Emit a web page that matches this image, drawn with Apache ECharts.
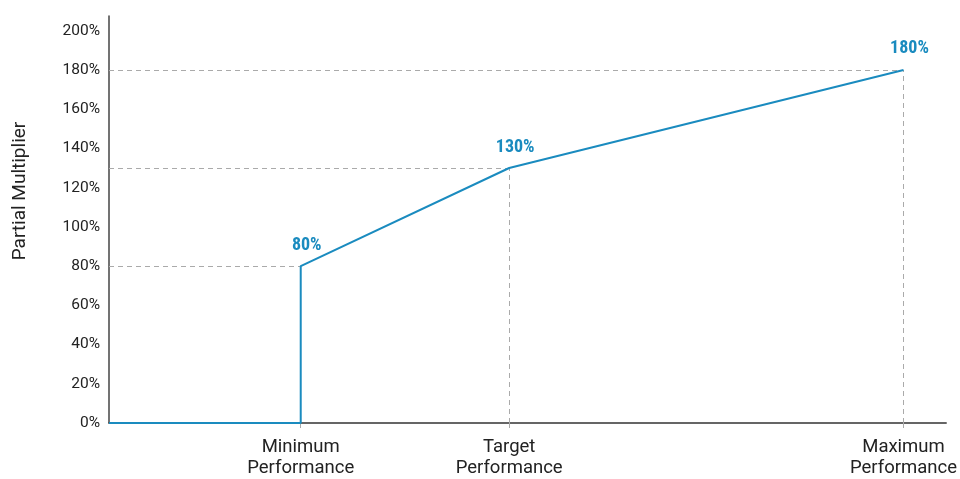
<!DOCTYPE html>
<html>
<head>
<meta charset="utf-8">
<script src="https://cdn.jsdelivr.net/npm/echarts@6/dist/echarts.min.js"></script>
<style>
  html, body { margin: 0; padding: 0; background: #fff; }
  #chart { width: 960px; height: 479px; }
</style>
</head>
<body>
<div id="chart"></div>
<script>
// performance levels (x position on a 0-100 scale) and payout multipliers
const levelNames = ['Minimum\nPerformance', 'Target\nPerformance', 'Maximum\nPerformance'];
const levelX = [22.9, 47.8, 94.9];
const multipliers = [80, 130, 180];
const yTicks = [0, 20, 40, 60, 80, 100, 120, 140, 160, 180, 200];

const blue = '#1a8bbf';
const guide = '#aaaaaa';

const chart = echarts.init(document.getElementById('chart'));

// payout curve: zero up to minimum, jumps to 80%, then rises
const curve = [
    { value: [0, 0], label: { show: false } },
    { value: [levelX[0], 0], label: { show: false } }
];
levelX.forEach((x, i) => curve.push({ value: [x, multipliers[i]] }));

// dashed guides to each level
const guides = [];
levelX.forEach((x, i) => {
    guides.push([{ coord: [0, multipliers[i]] }, { coord: [x, multipliers[i]] }]);
    guides.push([{ coord: [x, 0] }, { coord: [x, multipliers[i]] }]);
});

const option = {
    animation: false,
    grid: { left: 109, right: 8, top: 16, bottom: 52 },
    graphic: [{
        type: 'text',
        x: 20,
        y: 191,
        rotation: Math.PI / 2,
        style: {
            text: 'Partial Multiplier',
            align: 'center',
            verticalAlign: 'middle',
            fontFamily: 'Roboto',
            fontSize: 19,
            fill: '#222'
        }
    }],
    xAxis: {
        type: 'value',
        min: 0,
        max: 100,
        splitLine: { show: false },
        axisLine: { lineStyle: { color: '#333', width: 1.5 } },
        axisTick: { show: true, customValues: levelX, length: 5, lineStyle: { color: guide } },
        axisLabel: {
            customValues: levelX,
            margin: 14,
            fontFamily: 'Roboto',
            fontSize: 18.5,
            lineHeight: 21,
            color: '#222',
            formatter: v => {
                let best = 0;
                levelX.forEach((x, i) => { if (Math.abs(x - v) < Math.abs(levelX[best] - v)) best = i; });
                return levelNames[best];
            }
        }
    },
    yAxis: {
        type: 'value',
        min: 0,
        max: 207.5,
        interval: 20,
        splitLine: { show: false },
        axisTick: { show: false },
        axisLine: { show: true, lineStyle: { color: '#444', width: 1.5 } },
        axisLabel: {
            margin: 9,
            fontFamily: 'Roboto',
            fontSize: 15.5,
            color: '#222',
            formatter: v => (yTicks.indexOf(v) >= 0 ? v + '%' : '')
        }
    },
    series: [{
        type: 'line',
        data: curve,
        showSymbol: true,
        symbol: 'circle',
        symbolSize: 0,
        lineStyle: { color: blue, width: 2 },
        itemStyle: { color: blue },
        label: {
            show: true,
            position: 'top',
            distance: 12,
            offset: [6, 0],
            fontFamily: "'Roboto Condensed', 'Liberation Sans Narrow', Roboto",
            fontWeight: 'bold',
            fontSize: 18,
            color: blue,
            formatter: p => p.value[1] + '%'
        },
        markLine: {
            silent: true,
            symbol: 'none',
            z: 1,
            label: { show: false },
            lineStyle: { color: guide, type: [5, 4], width: 1 },
            data: guides
        },
        z: 3
    }]
};

chart.setOption(option);

window.addEventListener('resize', () => chart.resize());
</script>
</body>
</html>
